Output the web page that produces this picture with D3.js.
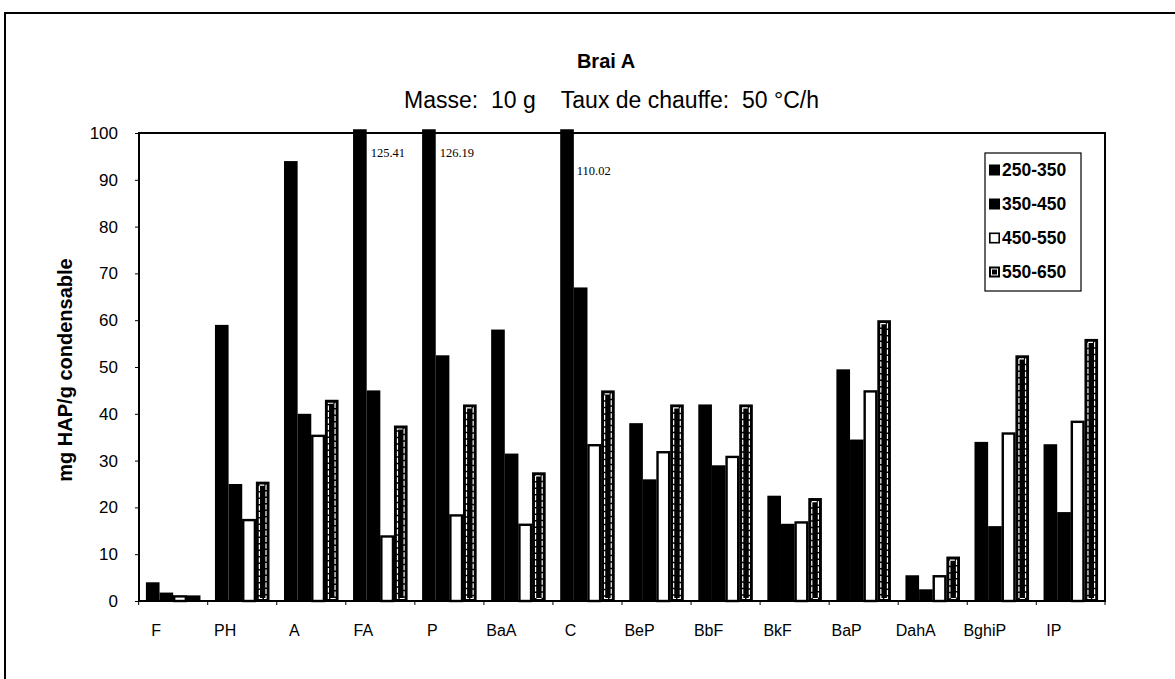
<!DOCTYPE html>
<html>
<head>
<meta charset="utf-8">
<script src="https://cdn.jsdelivr.net/npm/d3@7"></script>
<style>
  html, body { margin: 0; padding: 0; background: #fff; }
  svg { display: block; }
  text { font-family: "Liberation Sans", Arial, sans-serif; fill: #000; }
</style>
</head>
<body>
<svg id="chart" width="1175" height="679"></svg>
<script>
// ---- data ----
const categories = ["F","PH","A","FA","P","BaA","C","BeP","BbF","BkF","BaP","DahA","BghiP","IP"];
const seriesNames = ["250-350","350-450","450-550","550-650"];
const s250_350 = [4, 59, 94, 125.41, 126.19, 58, 110.02, 38, 42, 22.5, 49.5, 5.5, 34, 33.5];
const s350_450 = [1.8, 25, 40, 45, 52.5, 31.5, 67, 26, 29, 16.5, 34.5, 2.5, 16, 19];
const s450_550 = [1.2, 17.5, 35.5, 14, 18.5, 16.5, 33.5, 32, 31, 17, 45, 5.5, 36, 38.5];
const s550_650 = [1.2, 25.5, 43, 37.5, 42, 27.5, 45, 42, 42, 22, 60, 9.5, 52.5, 56];
const yTicks = [0,10,20,30,40,50,60,70,80,90,100];
const overflowCats = ["FA","P","C"];
const overflowText = ["125.41","126.19","110.02"];
const titleText = "Brai A";
const subtitleText = "Masse:  10 g    Taux de chauffe:  50 °C/h";
const yTitle = "mg HAP/g condensable";

const seriesValues = [s250_350, s350_450, s450_550, s550_650];

// ---- layout ----
const svg = d3.select("#chart");
const plot = { l: 139, t: 133, r: 1105, b: 601 };

const x = d3.scaleBand().domain(categories).range([plot.l, plot.r])
  .paddingInner(0.21).paddingOuter(0.1);
const xs = d3.scaleBand().domain(seriesNames).range([0, x.bandwidth()]);
const y = d3.scaleLinear().domain([0, 100]).range([plot.b, plot.t]);

// outer frame (right edge lies outside the picture)
svg.append("path")
  .attr("d", "M5,679 L5,13 L1180,13")
  .attr("fill", "none").attr("stroke", "#000").attr("stroke-width", 2);

// titles
svg.append("text").attr("x", 606).attr("y", 68).attr("text-anchor", "middle")
  .attr("font-size", 20).attr("font-weight", "bold").text(titleText);
svg.append("text").attr("x", 404).attr("y", 108).attr("text-anchor", "start")
  .attr("font-size", 23).style("white-space", "pre").text(subtitleText);

// bars
const rows = [];
categories.forEach((c, i) => {
  seriesNames.forEach((s, j) => rows.push({ cat: c, ser: s, j: j, v: seriesValues[j][i] }));
});
const bw = xs.bandwidth();
const g = svg.append("g");
rows.forEach(d => {
  const x0 = x(d.cat) + xs(d.ser);
  const vTop = Math.min(d.v, 100.8);
  const yt = y(vTop);
  const h = plot.b - yt;
  if (d.j === 0 || d.j === 1) {
    g.append("rect").attr("x", x0).attr("y", yt).attr("width", bw).attr("height", h)
      .attr("fill", "#000");
  } else if (d.j === 2) {
    g.append("rect").attr("x", x0 + 1).attr("y", yt + 1).attr("width", bw - 2).attr("height", Math.max(0, h - 1))
      .attr("fill", "#fff").attr("stroke", "#000").attr("stroke-width", 2.4);
  } else {
    g.append("rect").attr("x", x0).attr("y", yt).attr("width", bw).attr("height", h)
      .attr("fill", "#000");
    if (h > 8) {
      g.append("rect").attr("x", x0 + 3.5).attr("y", yt + 3.5).attr("width", bw - 7).attr("height", h - 6)
        .attr("fill", "none").attr("stroke", "#fff").attr("stroke-width", 1.2)
        .attr("stroke-dasharray", "5,1.5");
    }
  }
});

// overflow value labels
overflowCats.forEach((c, k) => {
  const bx = x(c) + xs(seriesNames[0]) + bw + (k === 2 ? 3 : 4);
  svg.append("text").attr("x", bx).attr("y", k === 2 ? 175 : 157)
    .style("font-family", "'Liberation Serif', 'Times New Roman', serif")
    .attr("font-size", 12.5).text(overflowText[k]);
});

// plot frame
svg.append("rect").attr("x", plot.l).attr("y", plot.t)
  .attr("width", plot.r - plot.l).attr("height", plot.b - plot.t)
  .attr("fill", "none").attr("stroke", "#000").attr("stroke-width", 2);

// y axis
const yAxis = d3.axisLeft(y).tickValues(yTicks).tickSize(4).tickPadding(17).tickFormat(d3.format("d"));
const ya = svg.append("g").attr("transform", `translate(${plot.l},0)`).call(yAxis);
ya.select(".domain").remove();
ya.selectAll("text").attr("font-size", 17).style("font-family", "'Liberation Sans', Arial, sans-serif");
ya.selectAll("line").attr("stroke", "#000");

// x axis: small ticks at category boundaries
const bounds = categories.map(c => x(c) - x.step() * x.paddingInner() / 2).concat([plot.r]);
svg.append("g").selectAll("line").data(bounds).join("line")
  .attr("x1", d => d).attr("x2", d => d).attr("y1", plot.b).attr("y2", plot.b + 4)
  .attr("stroke", "#000").attr("stroke-width", 1);

// x axis labels (the scan shows them a little left of each group's centre)
const xAxis = d3.axisBottom(x).tickSize(0).tickPadding(24);
const xa = svg.append("g").attr("transform", `translate(0,${plot.b})`).call(xAxis);
xa.select(".domain").remove();
xa.selectAll("text").attr("font-size", 16).attr("dx", -17)
  .style("font-family", "'Liberation Sans', Arial, sans-serif");

// y title
svg.append("text").attr("transform", "translate(72,370) rotate(-90)")
  .attr("text-anchor", "middle").attr("font-size", 20).attr("font-weight", "bold").text(yTitle);

// legend
const lg = { x: 985, y: 153, w: 96, h: 138 };
const leg = svg.append("g");
leg.append("rect").attr("x", lg.x).attr("y", lg.y).attr("width", lg.w).attr("height", lg.h)
  .attr("fill", "#fff").attr("stroke", "#000").attr("stroke-width", 1.2);
const ly = d3.scalePoint().domain(seriesNames).range([lg.y + 17, lg.y + 119]);
seriesNames.forEach((s, j) => {
  const cy = ly(s);
  const mx = lg.x + 4, ms = 11;
  if (j < 2) {
    leg.append("rect").attr("x", mx).attr("y", cy - ms / 2).attr("width", ms).attr("height", ms).attr("fill", "#000");
  } else if (j === 2) {
    leg.append("rect").attr("x", mx + 0.8).attr("y", cy - ms / 2 + 0.8).attr("width", ms - 1.6).attr("height", ms - 1.6)
      .attr("fill", "#fff").attr("stroke", "#000").attr("stroke-width", 1.6);
  } else {
    leg.append("rect").attr("x", mx).attr("y", cy - ms / 2).attr("width", ms).attr("height", ms).attr("fill", "#000");
    leg.append("rect").attr("x", mx + 2.5).attr("y", cy - ms / 2 + 2.5).attr("width", ms - 5).attr("height", ms - 5)
      .attr("fill", "none").attr("stroke", "#fff").attr("stroke-width", 1);
  }
  leg.append("text").attr("x", mx + ms + 2).attr("y", cy + 6)
    .attr("font-size", 17.5).attr("font-weight", "bold").text(s);
});
</script>
</body>
</html>
